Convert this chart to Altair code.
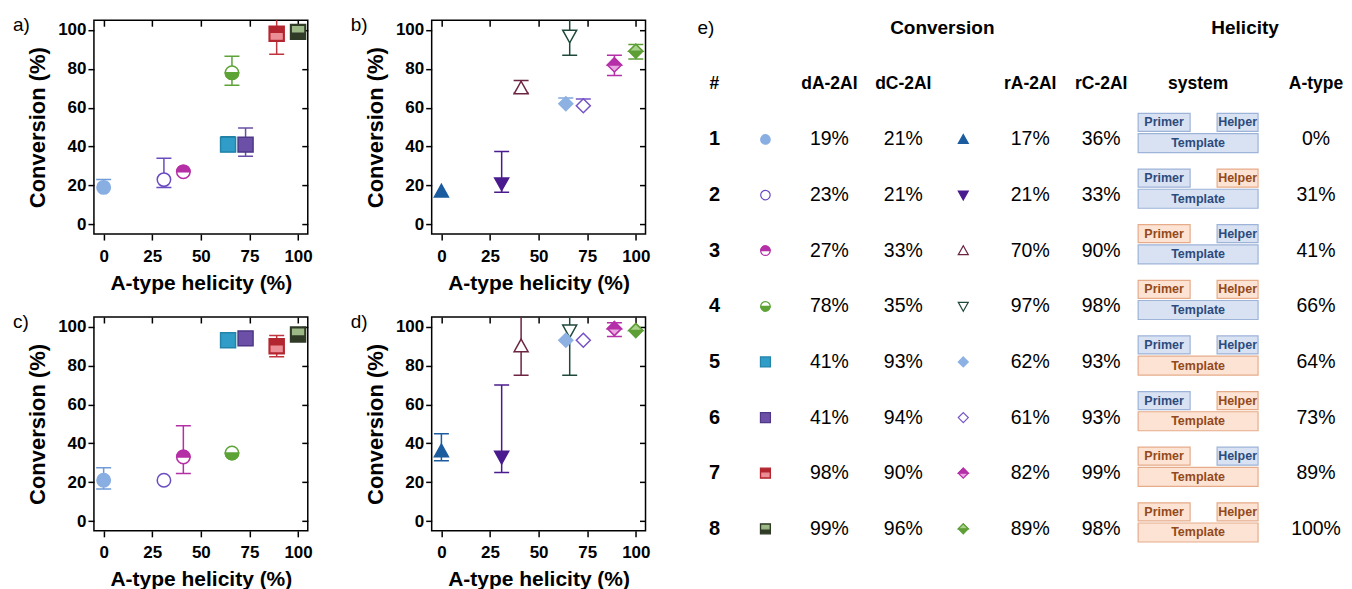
import altair as alt
import pandas as pd

# ---------------- data ----------------
systems = [1, 2, 3, 4, 5, 6, 7, 8]
helicity = [0, 31, 41, 66, 64, 73, 89, 100]          # A-type helicity (%)
dA_2AI = [19, 23, 27, 78, 41, 41, 98, 99]             # conversion (%)
dC_2AI = [21, 21, 33, 35, 93, 94, 90, 96]
rA_2AI = [17, 21, 70, 97, 62, 61, 82, 89]
rC_2AI = [36, 33, 90, 98, 93, 93, 99, 98]

# error-bar limits (None = not drawn)
dA_lo = [None, 19, None, 71.5, 37.5, 35, 87.5, None]
dA_hi = [23, 34, None, 86.5, 45, 49.5, 112, None]
rA_lo = [None, 16.5, 67.5, 87, None, None, 76.5, 85]
rA_hi = [None, 37.5, 74, 112, 65, 64.5, 87, 92.5]
dC_lo = [16.5, None, 24.5, None, None, None, 84.5, None]
dC_hi = [27.5, None, 49, None, None, None, 95.5, None]
rC_lo = [31, 25, 75, 75, None, None, 95, None]
rC_hi = [45, 70, 112, 112, None, None, 102, None]

# strand chemistry of the helicity system (True = RNA/orange box)
primer_rna = [False, False, True, True, False, False, True, True]
helper_rna = [False, True, False, True, False, True, False, True]
template_rna = [False, False, False, False, True, True, True, True]

x_ticks = [0, 25, 50, 75, 100]
y_ticks = [0, 20, 40, 60, 80, 100]
panel_labels = ["a)", "b)", "c)", "d)"]
col_headers = ["#", "dA-2AI", "dC-2AI", "rA-2AI", "rC-2AI", "system", "A-type"]
group_headers = ["Conversion", "Helicity"]

# ---------------- styles ----------------
FONT = "Liberation Sans"
PATH = {
    "circle": "M-1,0A1,1 0 1,1 1,0A1,1 0 1,1 -1,0Z",
    "circle_top": "M-1,0A1,1 0 0,1 1,0Z",
    "circle_bottom": "M-1,0A1,1 0 0,0 1,0Z",
    "square": "M-1,-1L1,-1L1,1L-1,1Z",
    "sq_in_top": "M-0.72,-0.7L0.72,-0.7L0.72,0L-0.72,0Z",
    "sq_in_bottom": "M-0.72,0L0.72,0L0.72,0.7L-0.72,0.7Z",
    "tri_up": "M0,-1L1,0.8L-1,0.8Z",
    "tri_down": "M0,1L1,-0.8L-1,-0.8Z",
    "diamond": "M0,-1L1,0L0,1L-1,0Z",
    "diamond_top": "M-1,0L0,-1L1,0Z",
    "cap": "M-1,0L1,0",
}
D_STYLE = {
    1: dict(size=180, bar="#6F9BD8", parts=[("circle", "#88AEE2", "#88AEE2")]),
    2: dict(size=180, bar="#6A4CC0", parts=[("circle", "white", "#6A4CC0")]),
    3: dict(size=180, bar="#B52FA6", parts=[("circle", "white", "#B52FA6"), ("circle_top", "#B52FA6", "#B52FA6")]),
    4: dict(size=180, bar="#5DA336", parts=[("circle", "white", "#5DA336"), ("circle_bottom", "#5DA336", "#5DA336")]),
    5: dict(size=225, bar="#1F7DA3", parts=[("square", "#2F9DC7", "#2384AA")]),
    6: dict(size=225, bar="#6A4EA5", parts=[("square", "#6C50A8", "#4E3786")]),
    7: dict(size=225, bar="#C0353D", parts=[("square", "#B3262F", "#B3262F"), ("sq_in_bottom", "#EC8E96", "#EC8E96")]),
    8: dict(size=225, bar="#2F3B26", parts=[("square", "#2F3B26", "#2F3B26"), ("sq_in_top", "#9CB886", "#9CB886")]),
}
R_STYLE = {
    1: dict(size=196, bar="#1B5C9F", parts=[("tri_up", "#1B5C9F", "#1B5C9F")]),
    2: dict(size=196, bar="#4A1B8E", parts=[("tri_down", "#4A1B8E", "#4A1B8E")]),
    3: dict(size=196, bar="#6D2442", parts=[("tri_up", "white", "#6D2442")]),
    4: dict(size=196, bar="#1F4A3A", parts=[("tri_down", "white", "#1F4A3A")]),
    5: dict(size=196, bar="#7FA6DC", parts=[("diamond", "#8DB1E3", "#8DB1E3")]),
    6: dict(size=196, bar="#7553C6", parts=[("diamond", "white", "#7553C6")]),
    7: dict(size=196, bar="#B52FA8", parts=[("diamond", "#EAA8E0", "#B52FA8"), ("diamond_top", "#B52FA8", "#B52FA8")]),
    8: dict(size=196, bar="#5E9E36", parts=[("diamond", "#5E9E36", "#5E9E36"), ("diamond_top", "#A8D28B", "#5E9E36")]),
}
BLUE = dict(fill="#D8E2F3", stroke="#9DB3D8", text="#2D4A7C")
ORANGE = dict(fill="#FCE3D3", stroke="#E6AC8A", text="#93491B")

PW, PH = 214, 214
SX = alt.Scale(domain=[-5, 105], nice=False, zero=False)
SY = alt.Scale(domain=[-5, 105], nice=False, zero=False)

common_ax = dict(grid=False, domain=False, ticks=True, tickSize=6, tickWidth=1.5,
                 tickColor="black")
AX_BOTTOM = alt.Axis(values=x_ticks, orient="bottom", title="A-type helicity (%)",
                     labelFont=FONT, labelFontWeight="bold", labelFontSize=17,
                     labelColor="black", labelPadding=8, labelFlush=False,
                     titleFont=FONT, titleFontWeight="bold", titleFontSize=21,
                     titleColor="black", titlePadding=8, **common_ax)
AX_LEFT = alt.Axis(values=y_ticks, orient="left", title="Conversion (%)",
                   labelFont=FONT, labelFontWeight="bold", labelFontSize=17,
                   labelColor="black", labelPadding=2, labelFlush=False,
                   titleFont=FONT, titleFontWeight="bold", titleFontSize=22,
                   titleColor="black", titlePadding=8, **common_ax)
AX_TOP = alt.Axis(values=x_ticks, orient="top", labels=False, title=None, offset=-6, **common_ax)
AX_RIGHT = alt.Axis(values=y_ticks, orient="right", labels=False, title=None, offset=-6, **common_ax)


def panel(values, lo, hi, style, label):
    pts, bars, caps = [], [], []
    for i, s in enumerate(systems):
        st = style[s]
        for shape, fill, stroke in st["parts"]:
            pts.append({"x": helicity[i], "y": values[i], "shape": PATH[shape],
                        "fill": fill, "stroke": stroke, "size": st["size"]})
        if lo[i] is not None or hi[i] is not None:
            bars.append({"x": helicity[i],
                         "y": lo[i] if lo[i] is not None else values[i],
                         "y2": hi[i] if hi[i] is not None else values[i],
                         "color": st["bar"]})
        for c in (lo[i], hi[i]):
            if c is not None and c <= 105:
                caps.append({"x": helicity[i], "y": c, "color": st["bar"]})
    pts, bars, caps = pd.DataFrame(pts), pd.DataFrame(bars), pd.DataFrame(caps)

    rules = alt.Chart(bars).mark_rule(clip=True, strokeWidth=1.5).encode(
        x=alt.X("x:Q", scale=SX, axis=AX_BOTTOM),
        y=alt.Y("y:Q", scale=SY, axis=AX_LEFT),
        y2="y2:Q",
        color=alt.Color("color:N", scale=None),
    )
    capm = alt.Chart(caps).mark_point(shape=PATH["cap"], size=225, filled=False,
                                      strokeWidth=1.5, opacity=1, clip=True).encode(
        x=alt.X("x:Q", scale=SX, axis=None),
        y=alt.Y("y:Q", scale=SY, axis=None),
        color=alt.Color("color:N", scale=None),
    )
    marks = alt.Chart(pts).mark_point(filled=True, opacity=1, fillOpacity=1,
                                      strokeWidth=1.5).encode(
        x=alt.X("x:Q", scale=SX, axis=None),
        y=alt.Y("y:Q", scale=SY, axis=None),
        shape=alt.Shape("shape:N", scale=None),
        fill=alt.Fill("fill:N", scale=None),
        stroke=alt.Stroke("stroke:N", scale=None),
        size=alt.Size("size:Q", scale=None),
    )
    ghost = alt.Chart(pts).mark_point(opacity=0).encode(
        x=alt.X("x:Q", scale=SX, axis=AX_TOP),
        y=alt.Y("y:Q", scale=SY, axis=AX_RIGHT),
    )
    lab = alt.Chart(pd.DataFrame({"t": [label]})).mark_text(
        align="left", baseline="alphabetic", font=FONT, fontSize=19, color="black"
    ).encode(x=alt.value(-81), y=alt.value(11), text="t:N")
    return alt.layer(rules, capm, marks, ghost, lab).resolve_axis(
        x="independent", y="independent"
    ).properties(width=PW, height=PH,
                 view=alt.ViewBackground(stroke="black", strokeWidth=1.5))


pa = panel(dA_2AI, dA_lo, dA_hi, D_STYLE, panel_labels[0])
pb = panel(rA_2AI, rA_lo, rA_hi, R_STYLE, panel_labels[1])
pc = panel(dC_2AI, dC_lo, dC_hi, D_STYLE, panel_labels[2])
pd_ = panel(rC_2AI, rC_lo, rC_hi, R_STYLE, panel_labels[3])

# ---------------- table (e) ----------------
TW = 560
TLEFT = 769  # page x of the table's plot area
COLX = {"e": 697, "num": 714, "m1": 765, "dA": 829, "dC": 903, "m2": 963,
        "rA": 1030, "rC": 1101, "system": 1198, "primer": 1164, "helper": 1237.5,
        "template": 1198, "atype": 1316, "conv": 942, "heli": 1245}
TX = alt.Scale(domain=[TLEFT, TLEFT + TW], range=[0, TW])
TY = alt.Scale(domain=[-1, 8], range=[8, 509])
BOX = {"primer": (52, 18, -0.306), "helper": (41, 18, -0.306), "template": (120, 19, 0.066)}


def tx(df):
    return alt.X("cx:Q", scale=TX, axis=None)


def ty():
    return alt.Y("row:Q", scale=TY, axis=None)


titles = pd.DataFrame({"cx": [COLX["conv"], COLX["heli"]], "row": [-1, -1], "t": group_headers})
elab = pd.DataFrame({"cx": [COLX["e"]], "row": [-1], "t": ["e)"]})
hdr = pd.DataFrame({"cx": [COLX[k] for k in ["num", "dA", "dC", "rA", "rC", "system", "atype"]],
                    "row": [0] * 7, "t": col_headers})
nums = pd.DataFrame({"cx": [COLX["num"]] * 8, "row": systems, "t": [str(s) for s in systems]})
vals = []
for key, arr in [("dA", dA_2AI), ("dC", dC_2AI), ("rA", rA_2AI), ("rC", rC_2AI), ("atype", helicity)]:
    for s, v in zip(systems, arr):
        vals.append({"cx": COLX[key], "row": s, "t": f"{v}%"})
vals = pd.DataFrame(vals)

tmarks = []
for s in systems:
    for key, style in [("m1", D_STYLE), ("m2", R_STYLE)]:
        st = style[s]
        size = 90 if st["parts"][0][0].startswith("circle") else 100
        for shape, fill, stroke in st["parts"]:
            tmarks.append({"cx": COLX[key], "row": s, "shape": PATH[shape], "fill": fill,
                           "stroke": stroke, "size": size})
tmarks = pd.DataFrame(tmarks)

boxes = []
for i, s in enumerate(systems):
    for name, rna, label in [("primer", primer_rna[i], "Primer"), ("helper", helper_rna[i], "Helper"),
                             ("template", template_rna[i], "Template")]:
        w, h, off = BOX[name]
        c = ORANGE if rna else BLUE
        hh = h / w
        boxes.append({"cx": COLX[name], "row": s + off, "t": label,
                      "shape": f"M-1,-{hh:.4f}L1,-{hh:.4f}L1,{hh:.4f}L-1,{hh:.4f}Z",
                      "size": w * w, "fill": c["fill"], "stroke": c["stroke"], "tc": c["text"]})
boxes = pd.DataFrame(boxes)


def text_layer(df, size, weight="normal", align="center"):
    return alt.Chart(df).mark_text(font=FONT, fontSize=size, fontWeight=weight, align=align,
                                   baseline="middle", color="black").encode(
        x=tx(df), y=ty(), text="t:N")


t_titles = text_layer(titles, 19, "bold")
t_e = text_layer(elab, 19, "normal", "left")
t_hdr = text_layer(hdr, 17.5, "bold")
t_nums = text_layer(nums, 20, "bold")
t_vals = text_layer(vals, 19.5)
t_marks = alt.Chart(tmarks).mark_point(filled=True, opacity=1, fillOpacity=1, strokeWidth=1.2).encode(
    x=tx(tmarks), y=ty(),
    shape=alt.Shape("shape:N", scale=None),
    fill=alt.Fill("fill:N", scale=None),
    stroke=alt.Stroke("stroke:N", scale=None),
    size=alt.Size("size:Q", scale=None),
)
t_boxes = alt.Chart(boxes).mark_point(filled=True, opacity=1, fillOpacity=1, strokeWidth=1.2).encode(
    x=tx(boxes), y=ty(),
    shape=alt.Shape("shape:N", scale=None),
    fill=alt.Fill("fill:N", scale=None),
    stroke=alt.Stroke("stroke:N", scale=None),
    size=alt.Size("size:Q", scale=None),
)
t_boxtext = alt.Chart(boxes).mark_text(font=FONT, fontSize=12.5, fontWeight="bold",
                                       baseline="middle", align="center").encode(
    x=tx(boxes), y=ty(), text="t:N", color=alt.Color("tc:N", scale=None))

table = alt.layer(t_titles, t_e, t_hdr, t_nums, t_vals, t_marks, t_boxes, t_boxtext).properties(
    width=TW, height=PH, view=alt.ViewBackground(stroke="transparent")
)

chart = alt.concat(pa, pb, table, pc, pd_, columns=3, spacing={"row": 83, "column": 124},
                   bounds="flush").properties(
    padding={"left": 4, "top": 7, "right": 0, "bottom": 0}
).configure(font=FONT)

chart.save("out.html", embed_options={"renderer": "svg", "actions": False})
